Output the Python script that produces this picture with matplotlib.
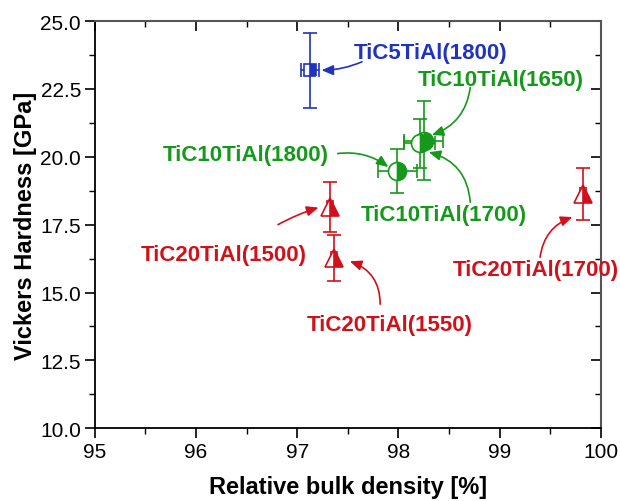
import matplotlib
matplotlib.use("Agg")
import matplotlib.pyplot as plt
from matplotlib.ticker import MultipleLocator, FormatStrFormatter

plt.rcParams['font.family'] = ['Liberation Sans', 'DejaVu Sans']

# data: relative density [%], hardness [GPa], errors
labels = ['TiC5TiAl(1800)', 'TiC10TiAl(1650)', 'TiC10TiAl(1700)', 'TiC10TiAl(1800)',
          'TiC20TiAl(1500)', 'TiC20TiAl(1550)', 'TiC20TiAl(1700)']
density = [97.13, 98.25, 98.21, 97.99, 97.32, 97.36, 99.82]
hardness = [23.19, 20.59, 20.50, 19.48, 18.15, 16.28, 18.62]
density_err = [0.09, 0.19, 0.15, 0.19, 0.03, 0.03, 0.03]
hardness_err = [1.38, 1.45, 0.90, 0.80, 0.92, 0.85, 0.95]
groups = ['blue', 'green', 'green', 'green', 'red', 'red', 'red']

colors = {'blue': '#1f32c0', 'green': '#15991a', 'red': '#d2101a'}
markers = {'blue': 's', 'green': 'o', 'red': '^'}
msizes = {'blue': 8.5, 'green': 13, 'red': 12.5}

# label text centres and arrow (tail, head, curvature)
text_pos = [(98.32, 23.86), (99.01, 22.83), (98.45, 17.89), (96.49, 20.10),
            (96.27, 16.41), (97.91, 13.83), (99.36, 15.86)]
arrow_tail = [(97.64, 23.50), (98.71, 22.55), (98.71, 18.33), (97.40, 20.12),
              (96.81, 17.50), (97.82, 14.57), (99.40, 16.30)]
arrow_head = [(97.24, 23.19), (98.33, 20.80), (98.30, 20.17), (97.90, 19.62),
              (97.21, 18.13), (97.52, 16.15), (99.72, 17.78)]
arrow_rad = [-0.1, -0.3, 0.35, -0.2, -0.05, 0.35, -0.3]

fig = plt.figure(figsize=(6.2, 5.02), dpi=100)
ax = fig.add_axes([0.153, 0.145, 0.816, 0.811])

for i in range(len(labels)):
    c = colors[groups[i]]
    ax.errorbar(density[i], hardness[i], xerr=density_err[i], yerr=hardness_err[i],
                fmt='none', ecolor=c, elinewidth=1.2, capsize=5, capthick=1.2, zorder=2)
    ax.plot(density[i], hardness[i], marker=markers[groups[i]], ms=msizes[groups[i]],
            color=c, mec=c, mfc=c, fillstyle='right', markerfacecoloralt='white',
            mew=1.2, ls='none', zorder=3)
    ax.text(text_pos[i][0], text_pos[i][1], labels[i], color=c, fontsize=16,
            fontweight='bold', ha='center', va='center', zorder=4)
    ax.annotate('', xy=arrow_head[i], xytext=arrow_tail[i],
                arrowprops=dict(arrowstyle='-|>,head_length=0.7,head_width=0.3', color=c,
                                lw=1.2, shrinkA=0, shrinkB=0,
                                connectionstyle=f'arc3,rad={arrow_rad[i]}'),
                zorder=4)

ax.set_xlim(95, 100)
ax.set_ylim(10, 25)
ax.xaxis.set_major_locator(MultipleLocator(1))
ax.xaxis.set_minor_locator(MultipleLocator(0.5))
ax.yaxis.set_major_locator(MultipleLocator(2.5))
ax.yaxis.set_minor_locator(MultipleLocator(1.25))
ax.yaxis.set_major_formatter(FormatStrFormatter('%.1f'))
ax.tick_params(which='major', direction='out', length=7, width=1.2, labelsize=15, pad=3)
ax.tick_params(which='minor', direction='out', length=4, width=1.0)

for side in ['left', 'bottom']:
    ax.spines[side].set_linewidth(1.3)
for side in ['top', 'right']:
    ax.spines[side].set_linewidth(1.5)
    ax.spines[side].set_color('#555555')

# mirrored inward ticks on top and right
top = ax.secondary_xaxis('top')
top.xaxis.set_major_locator(MultipleLocator(1))
top.xaxis.set_minor_locator(MultipleLocator(0.5))
top.tick_params(which='major', direction='in', length=7, width=1.2, labeltop=False)
top.tick_params(which='minor', direction='in', length=4, width=1.0)
top.spines['top'].set_visible(False)
right = ax.secondary_yaxis('right')
right.yaxis.set_major_locator(MultipleLocator(2.5))
right.yaxis.set_minor_locator(MultipleLocator(1.25))
right.tick_params(which='major', direction='in', length=7, width=1.2, labelright=False)
right.tick_params(which='minor', direction='in', length=4, width=1.0)
right.spines['right'].set_visible(False)

ax.set_xlabel('Relative bulk density [%]', fontsize=17, fontweight='bold', labelpad=10)
ax.set_ylabel('Vickers Hardness [GPa]', fontsize=17, fontweight='bold', labelpad=2)

fig.savefig('out.png', dpi=100)
